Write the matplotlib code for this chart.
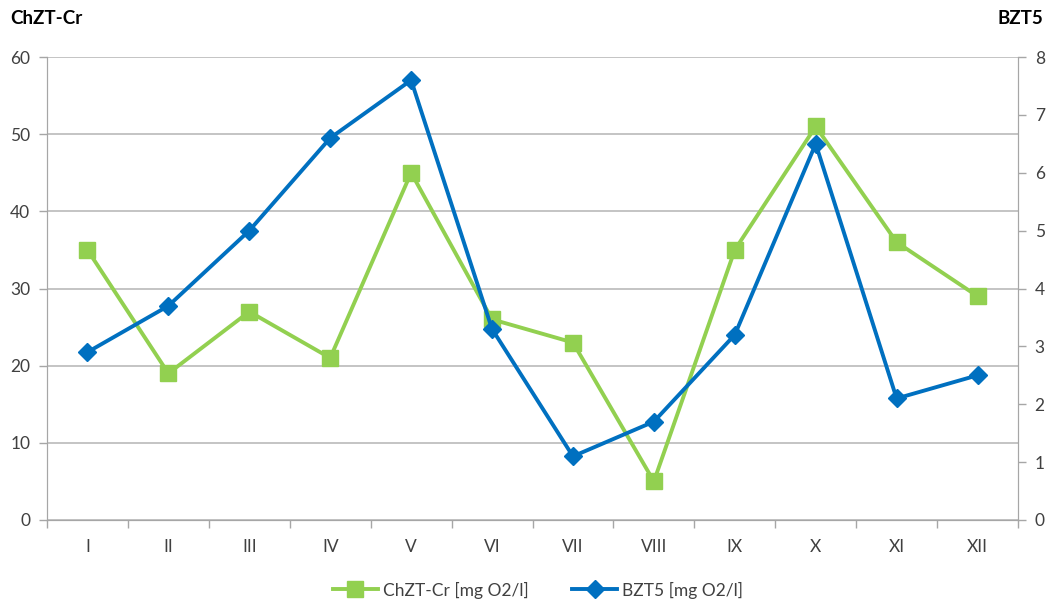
import matplotlib
matplotlib.use("Agg")
import matplotlib.pyplot as plt
from matplotlib.ticker import MultipleLocator

months = ["I", "II", "III", "IV", "V", "VI", "VII", "VIII", "IX", "X", "XI", "XII"]
chzt_cr = [35, 19, 27, 21, 45, 26, 23, 5, 35, 51, 36, 29]
bzt5 = [2.9, 3.7, 5.0, 6.6, 7.6, 3.3, 1.1, 1.7, 3.2, 6.5, 2.1, 2.5]

GREEN = "#92D050"
BLUE = "#0070C0"
GRID = "#BFBFBF"
AXIS = "#A6A6A6"
TEXT = "#404040"

plt.rcParams["font.family"] = ["Lato", "DejaVu Sans"]

fig = plt.figure(figsize=(10.53, 6.06), dpi=100)
ax = fig.add_axes([47 / 1053, 86 / 606, 971 / 1053, 463 / 606])
ax2 = ax.twinx()

x = list(range(len(months)))

ax.set_xlim(-0.5, 11.5)
ax.set_ylim(0, 60)
ax.yaxis.set_major_locator(MultipleLocator(10))
ax2.set_ylim(0, 8)
ax2.yaxis.set_major_locator(MultipleLocator(1))

ax.grid(axis="y", color=GRID, linewidth=1.3)
ax.set_axisbelow(True)

for a in (ax, ax2):
    a.spines["top"].set_visible(False)
    a.spines["left"].set_color(AXIS)
    a.spines["right"].set_color(AXIS)
    a.spines["bottom"].set_color(AXIS)
    a.tick_params(colors=TEXT, labelsize=12.5, length=6, width=1, direction="out")
    a.tick_params(axis="both", color=AXIS)

# category boundaries carry the tick marks, labels sit between them
ax.set_xticks([i - 0.5 for i in range(13)], minor=False)
ax.set_xticklabels([])
ax.set_xticks(x, minor=True)
ax.set_xticklabels(months, minor=True)
ax.tick_params(axis="x", which="minor", length=0, pad=14, labelsize=12.5, labelcolor=TEXT)
ax.tick_params(axis="y", pad=6)
ax2.tick_params(axis="y", pad=6)

g, = ax.plot(x, chzt_cr, color=GREEN, linewidth=2.8, marker="s", markersize=11,
             label="ChZT-Cr [mg O2/l]", zorder=3)
b, = ax2.plot(x, bzt5, color=BLUE, linewidth=2.8, marker="D", markersize=9,
              label="BZT5 [mg O2/l]", zorder=3)

fig.text(10 / 1053, 1 - 18 / 606, "ChZT-Cr", fontsize=13.5, fontweight="bold",
         color="black", va="center", ha="left")
fig.text(1043 / 1053, 1 - 18 / 606, "BZT5", fontsize=13.5, fontweight="bold",
         color="black", va="center", ha="right")

fig.legend(handles=[g, b], loc="center", bbox_to_anchor=(538 / 1053, 1 - 590 / 606),
           ncol=2, frameon=False, fontsize=12.5, handlelength=2.6, columnspacing=2.5,
           labelcolor=TEXT, handletextpad=0.3)

fig.savefig("out.png", dpi=100)
